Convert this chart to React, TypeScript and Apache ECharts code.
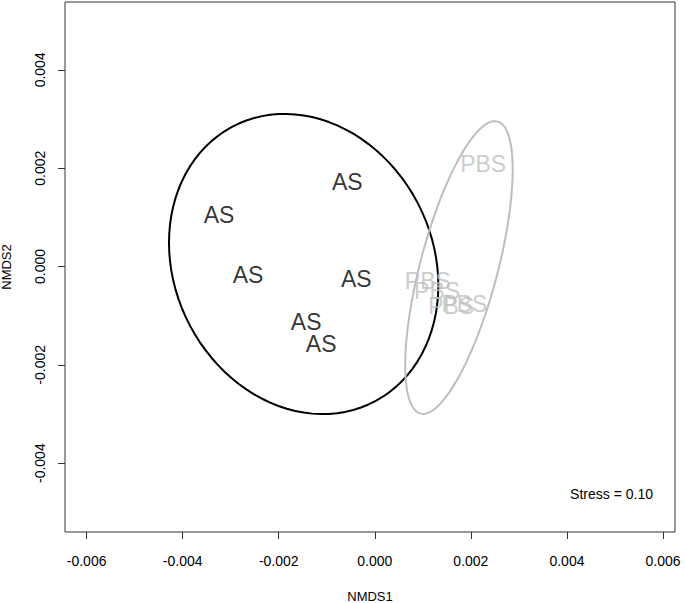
import React, { useEffect, useRef } from "react";
import * as echarts from "echarts";

// Site scores (NMDS1, NMDS2)
const asX = [-0.000573, -0.003243, -0.002638, -0.000386, -0.001429, -0.001116];
const asY = [0.00171, 0.001038, -0.000163, -0.000244, -0.00112, -0.001567];
const pbsX = [0.002256, 0.001105, 0.001297, 0.001591, 0.001866];
const pbsY = [0.002091, -0.000299, -0.000503, -0.000808, -0.000753];

// Ellipse centres
const asCenter = [-0.001481, 0.0000509];
const pbsCenter = [0.001752, -0.0000204];

const xTicks = [-0.006, -0.004, -0.002, 0.0, 0.002, 0.004, 0.006];
const yTicks = [-0.004, -0.002, 0.0, 0.002, 0.004];
const stressLabel = "Stress = 0.10";

const FONT = "'Liberation Sans', Arial, Helvetica, sans-serif";

// 95% sd ellipse (as vegan::ordiellipse, conf = 0.95) from a group's covariance
function ellipse(xs: number[], ys: number[], center: number[]) {
  const n = xs.length;
  const mx = xs.reduce((a, b) => a + b, 0) / n;
  const my = ys.reduce((a, b) => a + b, 0) / n;
  let sxx = 0, syy = 0, sxy = 0;
  for (let i = 0; i < n; i++) {
    sxx += (xs[i] - mx) ** 2;
    syy += (ys[i] - my) ** 2;
    sxy += (xs[i] - mx) * (ys[i] - my);
  }
  sxx /= n - 1; syy /= n - 1; sxy /= n - 1;
  const scale = Math.sqrt(-2 * Math.log(1 - 0.95));
  const l11 = Math.sqrt(sxx);
  const l21 = sxy / l11;
  const l22 = Math.sqrt(syy - l21 * l21);
  const pts: number[][] = [];
  const N = 100;
  for (let k = 0; k <= N; k++) {
    const t = (2 * Math.PI * k) / N;
    const u = Math.cos(t), v = Math.sin(t);
    pts.push([center[0] + scale * l11 * u, center[1] + scale * (l21 * u + l22 * v)]);
  }
  return pts;
}

export default function App() {
  const ref = useRef<HTMLDivElement>(null);
  useEffect(() => {
    if (!ref.current) return;
    const chart = echarts.init(ref.current, undefined, { renderer: "svg" });
    const labelSeries = (name: string, xs: number[], ys: number[], color: string) => ({
      type: "scatter",
      name,
      data: xs.map((x, i) => [x, ys[i]]),
      symbolSize: 1,
      itemStyle: { color: "rgba(0,0,0,0)" },
      label: {
        show: true,
        position: "inside",
        formatter: name,
        color,
        fontSize: 23,
        fontFamily: FONT,
      },
      labelLayout: { hideOverlap: false },
      z: 3,
    });
    chart.setOption({
      animation: false,
      backgroundColor: "#fff",
      grid: {
        left: 65,
        top: 2,
        right: 10,
        bottom: 71,
        containLabel: false,
        outerBoundsMode: "none",
        show: true,
        borderColor: "#333",
        borderWidth: 1,
      },
      xAxis: {
        type: "value",
        min: -0.00645,
        max: 0.00625,
        name: "NMDS1",
        nameLocation: "middle",
        nameGap: 58,
        nameTextStyle: { fontSize: 13, fontFamily: FONT, color: "#000" },
        axisLine: { show: false, onZero: false },
        splitLine: { show: false },
        axisTick: {
          show: true,
          length: 7,
          inside: false,
          customValues: xTicks,
          lineStyle: { color: "#333", width: 1 },
        },
        axisLabel: {
          customValues: xTicks,
          formatter: (v: number) => v.toFixed(3),
          margin: 22,
          fontSize: 14,
          fontFamily: FONT,
          color: "#000",
        },
      },
      yAxis: {
        type: "value",
        min: -0.0054,
        max: 0.00538,
        name: "NMDS2",
        nameLocation: "middle",
        nameGap: 52,
        nameTextStyle: { fontSize: 13, fontFamily: FONT, color: "#000" },
        axisLine: { show: false, onZero: false },
        splitLine: { show: false },
        axisTick: {
          show: true,
          length: 7,
          inside: false,
          customValues: yTicks,
          lineStyle: { color: "#333", width: 1 },
        },
        axisLabel: {
          customValues: yTicks,
          formatter: (v: number) => v.toFixed(3),
          rotate: 90,
          margin: 18,
          fontSize: 14,
          fontFamily: FONT,
          color: "#000",
        },
      },
      graphic: [
        {
          type: "text",
          right: 32,
          top: 487,
          style: { text: stressLabel, fontSize: 14, fontFamily: FONT, fill: "#000" },
        },
      ],
      series: [
        labelSeries("AS", asX, asY, "#000"),
        labelSeries("PBS", pbsX, pbsY, "#bebebe"),
        {
          type: "line",
          data: ellipse(asX, asY, asCenter),
          showSymbol: false,
          symbol: "none",
          lineStyle: { color: "#000", width: 2 },
          z: 2,
        },
        {
          type: "line",
          data: ellipse(pbsX, pbsY, pbsCenter),
          showSymbol: false,
          symbol: "none",
          lineStyle: { color: "#bebebe", width: 2 },
          z: 2,
        },
      ],
    });
    return () => chart.dispose();
  }, []);
  return (
    <div
      ref={ref}
      style={{ position: "fixed", left: 0, top: 0, width: 685, height: 603, background: "#fff" }}
    />
  );
}
